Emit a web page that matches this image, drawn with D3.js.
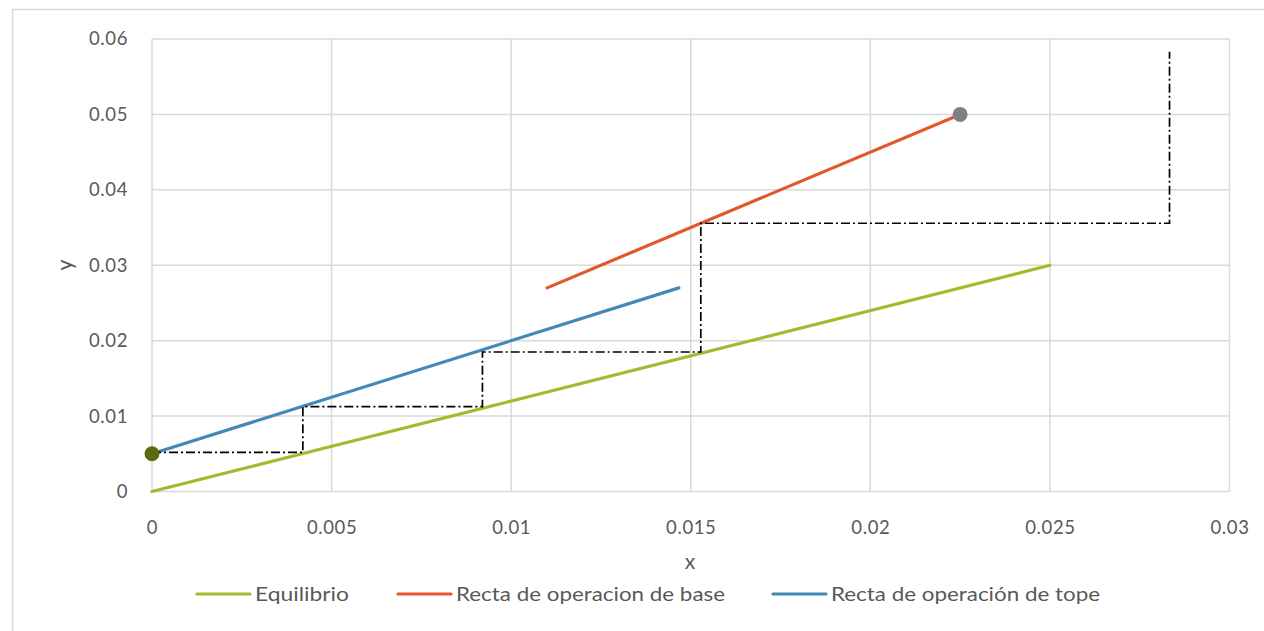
<!DOCTYPE html>
<html><head><meta charset="utf-8">
<script src="https://cdn.jsdelivr.net/npm/d3@7"></script>
<style>body{margin:0;background:#fff}svg{display:block}</style>
</head><body>
<svg id="c" width="1264" height="631"></svg>
<script>
const xTicks = [0, 0.005, 0.01, 0.015, 0.02, 0.025, 0.03];
const yTicks = [0, 0.01, 0.02, 0.03, 0.04, 0.05, 0.06];
const equilibrio = [[0, 0], [0.025, 0.03]];
const base = [[0.011, 0.027], [0.0225, 0.05]];
const tope = [[0, 0.005], [0.01467, 0.027]];
const steps = [[0, 0.0052], [0.0042, 0.0052], [0.0042, 0.01125], [0.0092, 0.01125], [0.0092, 0.0185], [0.01528, 0.0185], [0.01528, 0.03557], [0.02833, 0.03557], [0.02833, 0.0583]];
const markers = [{p: [0, 0.005], c: "#5e6a12"}, {p: [0.0225, 0.05], c: "#808080"}];
const seriesNames = ["Equilibrio", "Recta de operacion de base", "Recta de operación de tope"];
const seriesColors = ["#a5b92f", "#e3582a", "#4389b8"];

const svg = d3.select("#c");
const font = "Lato, 'Open Sans', sans-serif";
svg.append("rect").attr("x", 12.5).attr("y", 9.5).attr("width", 1300).attr("height", 700)
  .attr("fill", "none").attr("stroke", "#d9d9d9").attr("stroke-width", 1.5);

const x = d3.scaleLinear().domain([0, 0.03]).range([152, 1229.5]);
const y = d3.scaleLinear().domain([0, 0.06]).range([491.5, 39]);

const g = svg.append("g");
g.selectAll(".vg").data(xTicks).join("line")
  .attr("x1", d => x(d)).attr("x2", d => x(d)).attr("y1", y(0)).attr("y2", y(0.06))
  .attr("stroke", "#d9d9d9").attr("stroke-width", 1.5);
g.selectAll(".hg").data(yTicks).join("line")
  .attr("y1", d => y(d)).attr("y2", d => y(d)).attr("x1", x(0)).attr("x2", x(0.03))
  .attr("stroke", "#d9d9d9").attr("stroke-width", 1.5);

const xAxis = svg.append("g").attr("transform", `translate(0,${y(0)})`)
  .call(d3.axisBottom(x).tickValues(xTicks).tickFormat(d => String(+d.toFixed(3))).tickSize(0).tickPadding(29));
xAxis.select(".domain").remove();
xAxis.selectAll("text").attr("fill", "#595959").attr("font-size", 18.5).attr("letter-spacing", 0.6).attr("font-family", font);

const yAxis = svg.append("g").attr("transform", `translate(${x(0)},0)`)
  .call(d3.axisLeft(y).tickValues(yTicks).tickFormat(d => String(+d.toFixed(2))).tickSize(0).tickPadding(24));
yAxis.select(".domain").remove();
yAxis.selectAll("text").attr("fill", "#595959").attr("font-size", 18.5).attr("letter-spacing", 0.6).attr("font-family", font);

const line = d3.line().x(d => x(d[0])).y(d => y(d[1]));
[equilibrio, base, tope].forEach((s, i) => {
  svg.append("path").attr("d", line(s)).attr("fill", "none")
    .attr("stroke", seriesColors[i]).attr("stroke-width", 3.2).attr("stroke-linecap", "round");
});
svg.append("path").attr("d", line(steps)).attr("fill", "none")
  .attr("stroke", "#000").attr("stroke-width", 1.7).attr("stroke-dasharray", "9,3,2,3");

svg.selectAll(".mk").data(markers).join("circle")
  .attr("cx", d => x(d.p[0])).attr("cy", d => y(d.p[1])).attr("r", 7.5).attr("fill", d => d.c);

svg.append("text").attr("x", 690).attr("y", 569).attr("text-anchor", "middle")
  .attr("font-size", 21).attr("font-family", font).attr("fill", "#595959").text("x");
svg.append("text").attr("transform", "translate(72,265) rotate(-90)").attr("text-anchor", "middle")
  .attr("font-size", 21).attr("font-family", font).attr("fill", "#595959").text("y");

const legX = [197, 398, 773];
const legW = [94, 269, 269];
seriesNames.forEach((n, i) => {
  svg.append("line").attr("x1", legX[i]).attr("x2", legX[i] + 53).attr("y1", 594).attr("y2", 594)
    .attr("stroke", seriesColors[i]).attr("stroke-width", 3.2).attr("stroke-linecap", "round");
  svg.append("text").attr("x", legX[i] + 58).attr("y", 601).attr("font-size", 20).attr("font-family", font)
    .attr("fill", "#595959").attr("textLength", legW[i]).attr("lengthAdjust", "spacingAndGlyphs").text(n);
});
</script>
</body></html>
